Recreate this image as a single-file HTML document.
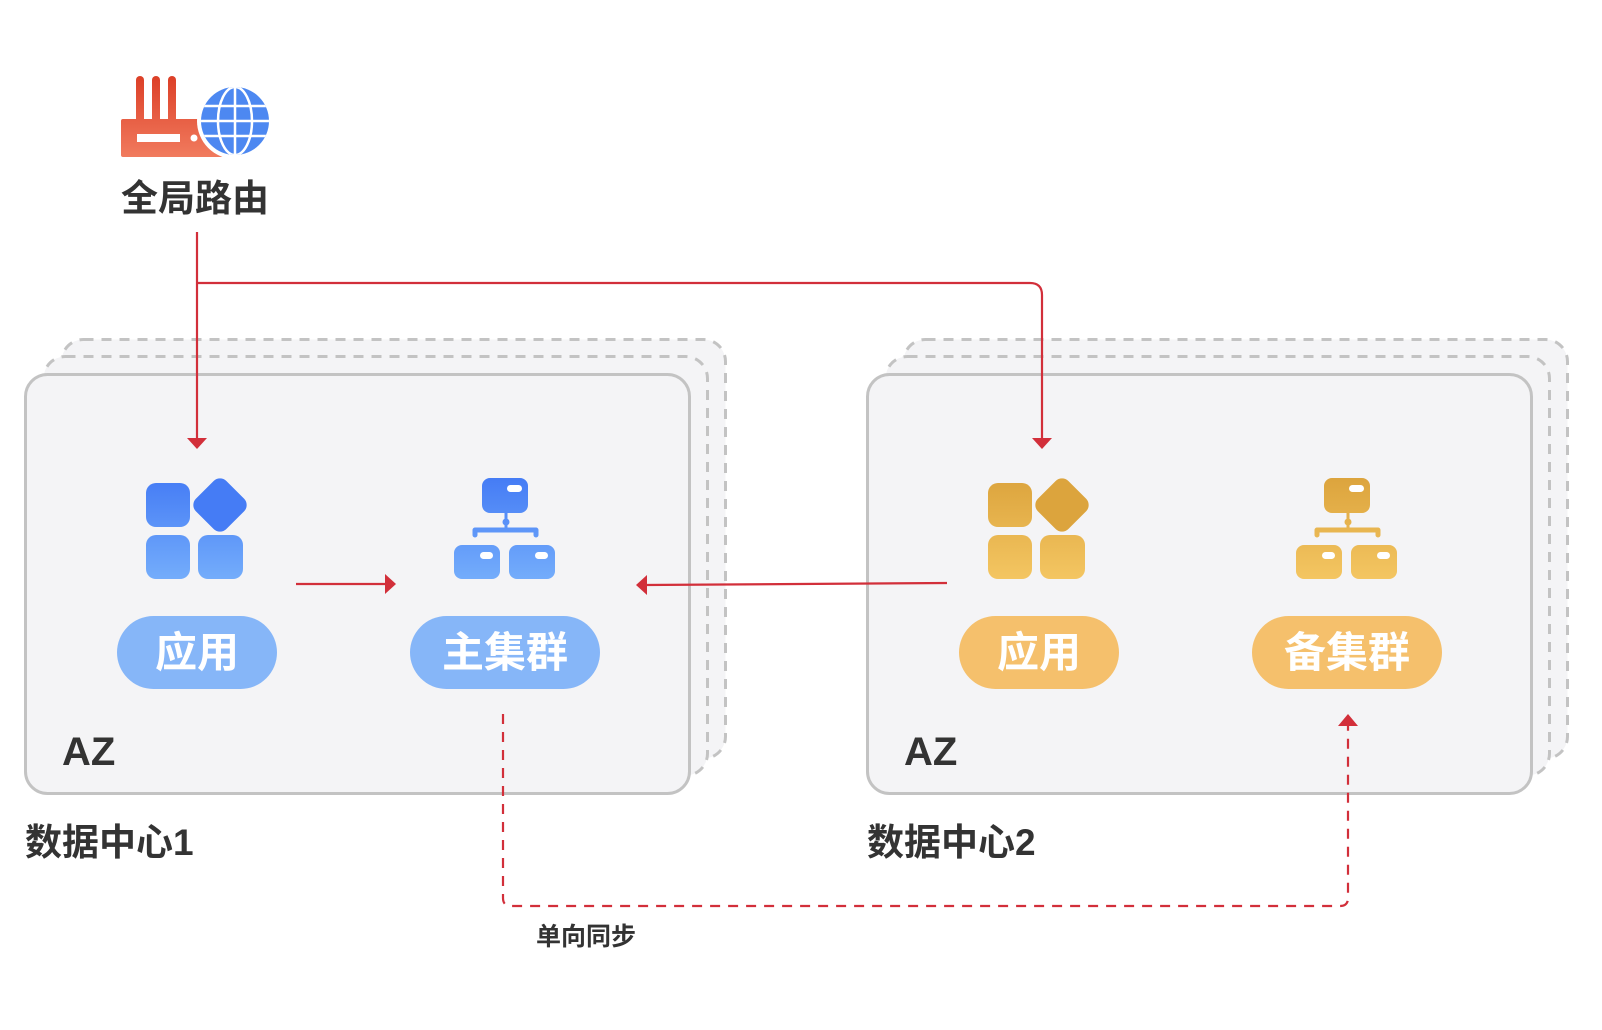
<!DOCTYPE html>
<html>
<head>
<meta charset="utf-8">
<style>
  html, body { margin: 0; padding: 0; background: #ffffff; }
  body { width: 1602px; height: 1030px; overflow: hidden; }
  svg { display: block; }
  .cjk { font-family: "Liberation Sans", "Noto Sans CJK SC", sans-serif; font-weight: 700; }
</style>
</head>
<body>
<svg width="1602" height="1030" viewBox="0 0 1602 1030" xmlns="http://www.w3.org/2000/svg">
  <defs>
    <linearGradient id="gBlue" x1="0" y1="478" x2="0" y2="580" gradientUnits="userSpaceOnUse">
      <stop offset="0" stop-color="#457cf5"/>
      <stop offset="1" stop-color="#74adfb"/>
    </linearGradient>
    <linearGradient id="gYellow" x1="0" y1="478" x2="0" y2="580" gradientUnits="userSpaceOnUse">
      <stop offset="0" stop-color="#dca43d"/>
      <stop offset="1" stop-color="#f4c662"/>
    </linearGradient>
    <linearGradient id="gRouter" x1="0" y1="76" x2="0" y2="157" gradientUnits="userSpaceOnUse">
      <stop offset="0" stop-color="#dc3f27"/>
      <stop offset="1" stop-color="#f17b5e"/>
    </linearGradient>
    <clipPath id="globeClip"><circle cx="235" cy="121" r="34"/></clipPath>
  </defs>

  <!-- ===== Data center 1 boxes ===== -->
  <rect x="61.5" y="339.5" width="664" height="419" rx="22" fill="#f4f4f6" stroke="#c3c3c3" stroke-width="3" stroke-dasharray="10 8"/>
  <rect x="43.5" y="356.5" width="664" height="419" rx="22" fill="#f4f4f6" stroke="#c3c3c3" stroke-width="3" stroke-dasharray="10 8"/>
  <rect x="25.5" y="374.5" width="664" height="419" rx="22" fill="#f4f4f6" stroke="#c3c3c3" stroke-width="3"/>

  <!-- ===== Data center 2 boxes ===== -->
  <rect x="903.5" y="339.5" width="664" height="419" rx="22" fill="#f4f4f6" stroke="#c3c3c3" stroke-width="3" stroke-dasharray="10 8"/>
  <rect x="885.5" y="356.5" width="664" height="419" rx="22" fill="#f4f4f6" stroke="#c3c3c3" stroke-width="3" stroke-dasharray="10 8"/>
  <rect x="867.5" y="374.5" width="664" height="419" rx="22" fill="#f4f4f6" stroke="#c3c3c3" stroke-width="3"/>

  <!-- ===== Global router icon ===== -->
  <g>
    <rect x="136" y="76" width="8" height="50" rx="4" fill="url(#gRouter)"/>
    <rect x="152" y="76" width="8" height="50" rx="4" fill="url(#gRouter)"/>
    <rect x="168" y="76" width="8" height="50" rx="4" fill="url(#gRouter)"/>
    <rect x="121" y="119" width="102" height="38" rx="2" fill="url(#gRouter)"/>
    <rect x="137" y="134" width="43" height="8" fill="#ffffff"/>
    <circle cx="194" cy="138" r="3.5" fill="#ffffff"/>
    <circle cx="235" cy="121" r="38" fill="#ffffff"/>
    <circle cx="235" cy="121" r="34" fill="#4d88f1"/>
    <g clip-path="url(#globeClip)" stroke="#ffffff" stroke-width="2.5" fill="none">
      <line x1="195" y1="106" x2="275" y2="106"/>
      <line x1="195" y1="121" x2="275" y2="121"/>
      <line x1="195" y1="136" x2="275" y2="136"/>
      <line x1="235" y1="85" x2="235" y2="157"/>
      <ellipse cx="235" cy="121" rx="17" ry="34"/>
    </g>
  </g>
  <text class="cjk" x="195" y="211" font-size="37" fill="#333333" text-anchor="middle">全局路由</text>

  <!-- ===== Left group icons ===== -->
  <g fill="url(#gBlue)">
    <rect x="146" y="483" width="44" height="44" rx="10"/>
    <rect x="146" y="535" width="44" height="44" rx="10"/>
    <rect x="198" y="535" width="45" height="44" rx="10"/>
    <rect x="-21.5" y="-21.5" width="43" height="43" rx="9" transform="translate(220 505) rotate(45)"/>
  </g>
  <g>
    <rect x="482" y="478" width="46" height="35" rx="8" fill="url(#gBlue)"/>
    <rect x="507" y="485" width="15" height="7" rx="3.5" fill="#ffffff"/>
    <line x1="506" y1="512" x2="506" y2="529" stroke="url(#gBlue)" stroke-width="3"/>
    <circle cx="506" cy="522" r="3.5" fill="url(#gBlue)"/>
    <path d="M475 535 V530 H536 V535" fill="none" stroke="url(#gBlue)" stroke-width="5" stroke-linecap="round" stroke-linejoin="round"/>
    <rect x="454" y="545" width="46" height="34" rx="8" fill="url(#gBlue)"/>
    <rect x="480" y="552" width="13" height="7" rx="3.5" fill="#ffffff"/>
    <rect x="509" y="545" width="46" height="34" rx="8" fill="url(#gBlue)"/>
    <rect x="535" y="552" width="13" height="7" rx="3.5" fill="#ffffff"/>
  </g>
  <rect x="117" y="616" width="160" height="73" rx="36.5" fill="#86b6f8"/>
  <text class="cjk" x="197" y="667" font-size="42" fill="#ffffff" text-anchor="middle">应用</text>
  <rect x="410" y="616" width="190" height="73" rx="36.5" fill="#86b6f8"/>
  <text class="cjk" x="505" y="667" font-size="42" fill="#ffffff" text-anchor="middle">主集群</text>

  <!-- ===== Right group icons ===== -->
  <g fill="url(#gYellow)">
    <rect x="988" y="483" width="44" height="44" rx="10"/>
    <rect x="988" y="535" width="44" height="44" rx="10"/>
    <rect x="1040" y="535" width="45" height="44" rx="10"/>
    <rect x="-21.5" y="-21.5" width="43" height="43" rx="9" transform="translate(1062 505) rotate(45)"/>
  </g>
  <g>
    <rect x="1324" y="478" width="46" height="35" rx="8" fill="url(#gYellow)"/>
    <rect x="1349" y="485" width="15" height="7" rx="3.5" fill="#ffffff"/>
    <line x1="1348" y1="512" x2="1348" y2="529" stroke="url(#gYellow)" stroke-width="3"/>
    <circle cx="1348" cy="522" r="3.5" fill="url(#gYellow)"/>
    <path d="M1317 535 V530 H1378 V535" fill="none" stroke="url(#gYellow)" stroke-width="5" stroke-linecap="round" stroke-linejoin="round"/>
    <rect x="1296" y="545" width="46" height="34" rx="8" fill="url(#gYellow)"/>
    <rect x="1322" y="552" width="13" height="7" rx="3.5" fill="#ffffff"/>
    <rect x="1351" y="545" width="46" height="34" rx="8" fill="url(#gYellow)"/>
    <rect x="1377" y="552" width="13" height="7" rx="3.5" fill="#ffffff"/>
  </g>
  <rect x="959" y="616" width="160" height="73" rx="36.5" fill="#f5c06c"/>
  <text class="cjk" x="1039" y="667" font-size="42" fill="#ffffff" text-anchor="middle">应用</text>
  <rect x="1252" y="616" width="190" height="73" rx="36.5" fill="#f5c06c"/>
  <text class="cjk" x="1347" y="667" font-size="42" fill="#ffffff" text-anchor="middle">备集群</text>

  <!-- ===== AZ labels ===== -->
  <text x="62" y="765" font-family="Liberation Sans, sans-serif" font-weight="700" font-size="40" fill="#333333">AZ</text>
  <text x="904" y="765" font-family="Liberation Sans, sans-serif" font-weight="700" font-size="40" fill="#333333">AZ</text>

  <!-- ===== Data center labels ===== -->
  <text class="cjk" x="25" y="855" font-size="37" fill="#333333">数据中心1</text>
  <text class="cjk" x="867" y="855" font-size="37" fill="#333333">数据中心2</text>

  <!-- ===== Connectors ===== -->
  <g stroke="#d22f3a" stroke-width="2.2" fill="none">
    <line x1="197" y1="232" x2="197" y2="440"/>
    <path d="M197 283 H1030 Q1042 283 1042 295 V440"/>
    <line x1="296" y1="584" x2="387" y2="584"/>
    <line x1="947" y1="583" x2="645" y2="585"/>
    <path d="M503 714 V898 Q503 906 511 906 H1340 Q1348 906 1348 898 V726" stroke-dasharray="10 8"/>
  </g>
  <g fill="#d22f3a">
    <polygon points="187,438 207,438 197,449"/>
    <polygon points="1032,438 1052,438 1042,449"/>
    <polygon points="385,574 385,594 396,584"/>
    <polygon points="647,575 647,595 636,585"/>
    <polygon points="1338,726 1358,726 1348,714"/>
  </g>

  <text class="cjk" x="586" y="945" font-size="25" fill="#333333" text-anchor="middle">单向同步</text>
</svg>
</body>
</html>
